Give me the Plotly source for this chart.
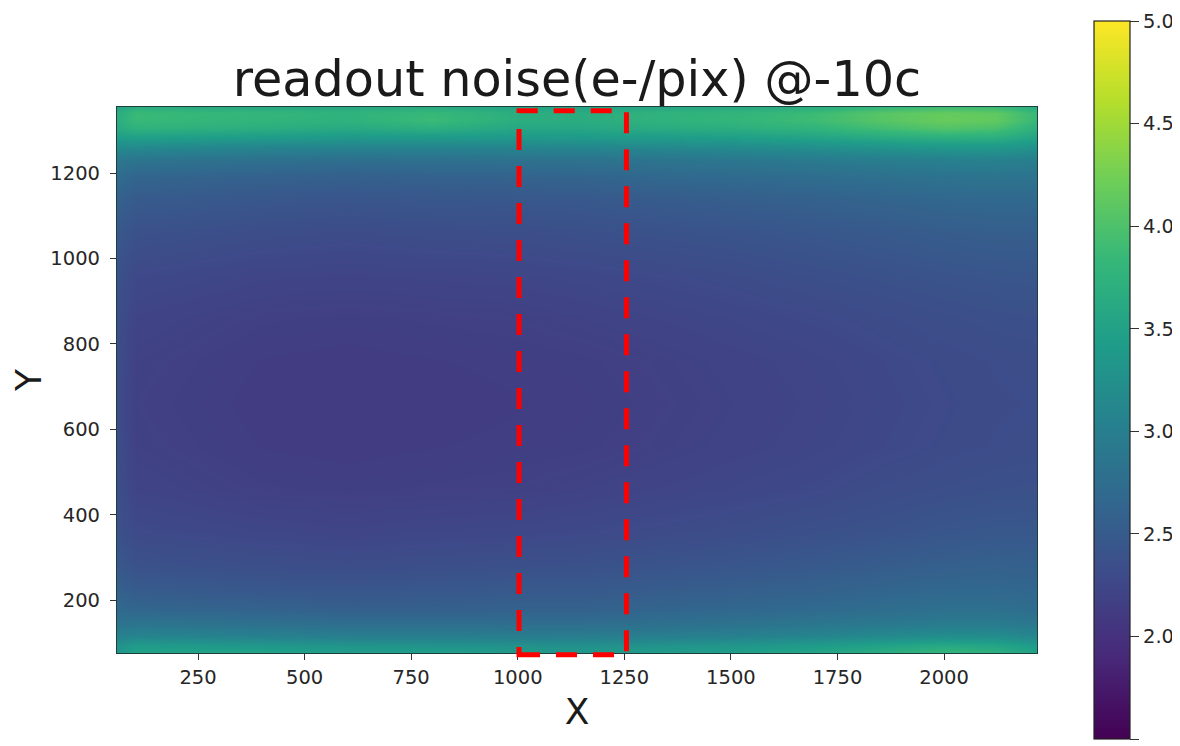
import plotly.graph_objects as go

x_grid = [60, 105, 400, 600, 800, 1000, 1150, 1300, 1500, 1700, 1850, 2000, 2120, 2218]
y_grid = [76, 92, 115, 145, 180, 220, 280, 360, 460, 560, 660, 760, 860, 960, 1060, 1140, 1190, 1230, 1262, 1285, 1305, 1325, 1342, 1355]
noise = [
    [3.35, 3.50, 3.52, 3.44, 3.48, 3.40, 3.38, 3.42, 3.46, 3.56, 3.66, 3.82, 3.72, 3.50],
    [3.28, 3.42, 3.36, 3.32, 3.30, 3.28, 3.26, 3.30, 3.34, 3.42, 3.52, 3.62, 3.56, 3.42],
    [3.04, 3.10, 3.04, 3.00, 3.00, 2.98, 2.98, 3.00, 3.04, 3.10, 3.16, 3.22, 3.20, 3.12],
    [2.84, 2.86, 2.80, 2.76, 2.76, 2.76, 2.76, 2.78, 2.82, 2.88, 2.92, 2.96, 2.96, 2.90],
    [2.68, 2.64, 2.60, 2.56, 2.56, 2.58, 2.58, 2.62, 2.66, 2.70, 2.74, 2.78, 2.78, 2.74],
    [2.58, 2.52, 2.47, 2.45, 2.47, 2.49, 2.49, 2.52, 2.56, 2.60, 2.64, 2.68, 2.68, 2.66],
    [2.46, 2.39, 2.35, 2.33, 2.35, 2.37, 2.38, 2.41, 2.44, 2.48, 2.52, 2.56, 2.58, 2.56],
    [2.38, 2.29, 2.25, 2.23, 2.25, 2.26, 2.28, 2.30, 2.33, 2.37, 2.40, 2.44, 2.46, 2.46],
    [2.34, 2.22, 2.17, 2.16, 2.17, 2.18, 2.20, 2.22, 2.25, 2.28, 2.32, 2.35, 2.37, 2.38],
    [2.32, 2.19, 2.14, 2.13, 2.14, 2.15, 2.16, 2.18, 2.21, 2.24, 2.27, 2.30, 2.32, 2.33],
    [2.31, 2.18, 2.13, 2.12, 2.13, 2.14, 2.15, 2.17, 2.20, 2.23, 2.26, 2.29, 2.31, 2.32],
    [2.32, 2.19, 2.14, 2.13, 2.14, 2.15, 2.16, 2.18, 2.21, 2.24, 2.27, 2.30, 2.32, 2.33],
    [2.34, 2.22, 2.17, 2.16, 2.17, 2.18, 2.20, 2.22, 2.25, 2.28, 2.31, 2.34, 2.36, 2.37],
    [2.38, 2.28, 2.23, 2.22, 2.23, 2.24, 2.26, 2.28, 2.31, 2.35, 2.38, 2.41, 2.43, 2.44],
    [2.46, 2.38, 2.33, 2.31, 2.33, 2.34, 2.36, 2.38, 2.41, 2.45, 2.48, 2.52, 2.54, 2.54],
    [2.58, 2.50, 2.45, 2.43, 2.45, 2.46, 2.47, 2.50, 2.54, 2.58, 2.62, 2.66, 2.68, 2.68],
    [2.72, 2.63, 2.58, 2.56, 2.58, 2.60, 2.62, 2.66, 2.70, 2.74, 2.78, 2.82, 2.84, 2.82],
    [2.90, 2.84, 2.78, 2.76, 2.78, 2.80, 2.82, 2.84, 2.88, 2.94, 2.98, 3.02, 3.04, 3.00],
    [3.18, 3.16, 3.10, 3.08, 3.08, 3.10, 3.12, 3.14, 3.18, 3.24, 3.30, 3.36, 3.36, 3.28],
    [3.44, 3.48, 3.42, 3.38, 3.40, 3.38, 3.40, 3.42, 3.46, 3.54, 3.64, 3.72, 3.70, 3.54],
    [3.62, 3.74, 3.68, 3.62, 3.70, 3.58, 3.58, 3.64, 3.68, 3.78, 3.92, 4.04, 3.98, 3.72],
    [3.68, 3.86, 3.78, 3.74, 3.88, 3.68, 3.66, 3.74, 3.80, 3.90, 4.06, 4.18, 4.14, 3.84],
    [3.66, 3.86, 3.80, 3.76, 3.84, 3.68, 3.66, 3.74, 3.78, 3.88, 4.06, 4.16, 4.12, 3.84],
    [3.52, 3.68, 3.62, 3.60, 3.66, 3.54, 3.52, 3.58, 3.62, 3.68, 3.82, 3.90, 3.88, 3.68],
]

x_range = [60, 2218]
y_range = [76, 1355]
box_x = [1003, 1255]
box_y = [72, 1346]

x_ticks = [250, 500, 750, 1000, 1250, 1500, 1750, 2000]
y_ticks = [200, 400, 600, 800, 1000, 1200]
cbar_ticks = [1.5, 2.0, 2.5, 3.0, 3.5, 4.0, 4.5, 5.0]

FONT = "DejaVu Sans"
INK = "#262626"

fig = go.Figure()
fig.add_trace(go.Heatmap(
    x=x_grid, y=y_grid, z=noise, zmin=1.5, zmax=5.0, colorscale="Viridis", zsmooth="best",
    hoverinfo="skip",
    colorbar=dict(
        lenmode="pixels", len=718, thicknessmode="pixels", thickness=36,
        x=1.0620, xanchor="left", xref="paper", y=1.1575, yanchor="top", yref="paper",
        xpad=0, ypad=0, outlinecolor="#222222", outlinewidth=1.2,
        tickmode="array", tickvals=cbar_ticks, ticktext=[f"{v:.1f}" for v in cbar_ticks],
        ticks="outside", ticklen=9, tickwidth=1.2, tickcolor="#333333",
        tickfont=dict(family=FONT, size=19.5, color=INK),
    ),
))


def y_frac(v):
    return (v - y_range[0]) / (y_range[1] - y_range[0])


fig.add_shape(
    type="rect", xref="x", yref="y domain", x0=box_x[0], x1=box_x[1],
    y0=y_frac(box_y[0]), y1=y_frac(box_y[1]), layer="above",
    line=dict(color="#ff0000", width=5, dash="21px,16px"),
)

axis_style = dict(
    showgrid=False, zeroline=False, showline=True, mirror=True, linecolor="#1f3f3f", linewidth=1.2,
    ticks="outside", ticklen=6, tickwidth=1.2, tickcolor="#333333",
    tickfont=dict(family=FONT, size=19.5, color=INK),
)
fig.update_layout(
    width=1172, height=738, autosize=False,
    margin=dict(l=109, r=143, t=99, b=93, autoexpand=False),
    paper_bgcolor="white", plot_bgcolor="white", showlegend=False,
    title=dict(text="readout noise(e-/pix) @-10c", x=0.5, xref="paper", xanchor="center",
               y=0.904, yref="container", yanchor="middle",
               font=dict(family=FONT, size=49.3, color="#1a1a1a")),
    xaxis=dict(range=x_range, tickmode="array", tickvals=x_ticks,
               title=dict(text="X", standoff=11, font=dict(family=FONT, size=36, color="#1a1a1a")),
               **axis_style),
    yaxis=dict(range=y_range, tickmode="array", tickvals=y_ticks, ticklabelstandoff=6,
               title=dict(text="Y", standoff=32, font=dict(family=FONT, size=36, color="#1a1a1a")),
               **axis_style),
)
fig.write_html("out.html")
